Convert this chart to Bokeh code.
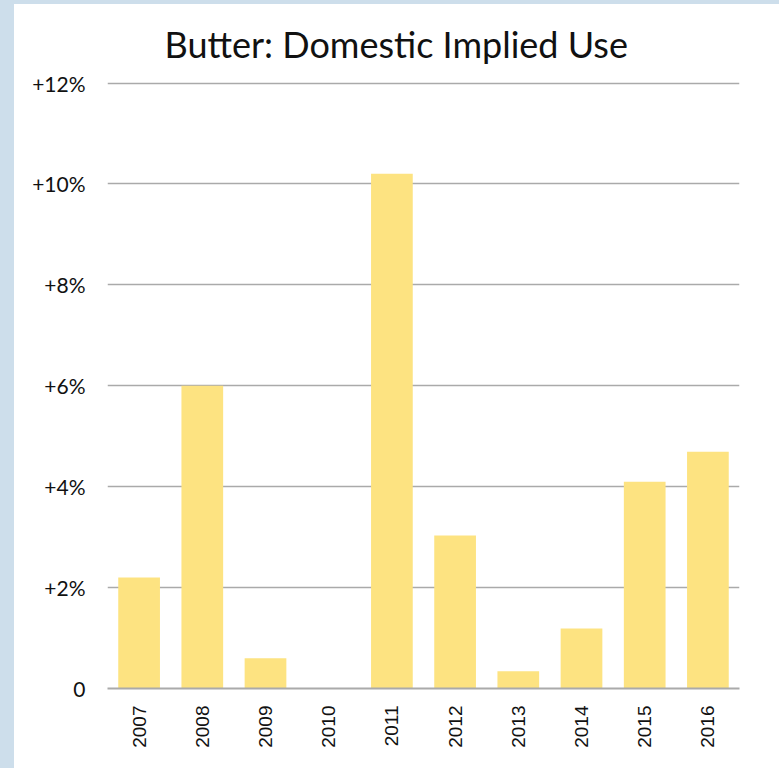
from bokeh.plotting import figure
from bokeh.models import ColumnDataSource, Div, Row, Column, FixedTicker, CustomJSTickFormatter
from bokeh.embed import file_html
from bokeh.resources import INLINE

years = ["2007", "2008", "2009", "2010", "2011", "2012", "2013", "2014", "2015", "2016"]
growth = [2.2, 6.0, 0.6, 0.0, 10.2, 3.03, 0.34, 1.19, 4.1, 4.69]
y_ticks = [0, 2, 4, 6, 8, 10, 12]
title_text = "Butter: Domestic Implied Use"

src = ColumnDataSource(dict(year=years, growth=growth))

p = figure(
    x_range=years, y_range=(0, 12.05),
    width=765, height=764,
    output_backend="svg", toolbar_location=None,
    min_border_left=93, min_border_right=40, min_border_top=76, min_border_bottom=80,
    outline_line_color=None, background_fill_color="white", border_fill_color="white",
)
p.x_range.range_padding = 0

p.vbar(x="year", top="growth", width=0.66, source=src, fill_color="#fde381", line_color=None)

p.title.text = title_text
p.title.align = "left"
p.title.offset = 57
p.title.text_font = "Lato"
p.title.text_font_size = "36px"
p.title.text_font_style = "normal"
p.title.text_color = "#111111"
p.title.vertical_align = "top"
p.title.standoff = 26

p.yaxis.ticker = FixedTicker(ticks=y_ticks)
p.yaxis.formatter = CustomJSTickFormatter(code="return tick == 0 ? '0' : '+' + tick + '%';")
p.yaxis.axis_line_color = None
p.yaxis.major_tick_line_color = None
p.yaxis.major_tick_out = 0
p.yaxis.major_tick_in = 0
p.yaxis.minor_tick_line_color = None
p.yaxis.major_label_standoff = 22
p.yaxis.major_label_text_font = "Lato"
p.yaxis.major_label_text_font_size = "21px"
p.yaxis.major_label_text_color = "#111111"

p.xaxis.axis_line_color = "#aaaaaa"
p.xaxis.axis_line_width = 2
p.xaxis.major_tick_line_color = None
p.xaxis.major_tick_out = 0
p.xaxis.major_tick_in = 0
p.xaxis.minor_tick_line_color = None
p.xaxis.major_label_orientation = 1.5708
p.xaxis.major_label_standoff = 17
p.xaxis.major_label_text_font = "Liberation Sans"
p.xaxis.major_label_text_font_size = "19px"
p.xaxis.major_label_text_color = "#111111"

p.xgrid.grid_line_color = None
p.ygrid.grid_line_color = "#aaaaaa"
p.ygrid.grid_line_width = 1.5

top_bar = Div(text="", width=779, height=4, margin=0,
              styles={"background-color": "#cddeeb"})
side = Div(text="", width=14, height=764, margin=0,
           styles={"background-color": "#cddeeb"})
layout = Column(top_bar, Row(side, p, spacing=0), spacing=0)

open("out.html", "w").write(file_html(layout, INLINE))
